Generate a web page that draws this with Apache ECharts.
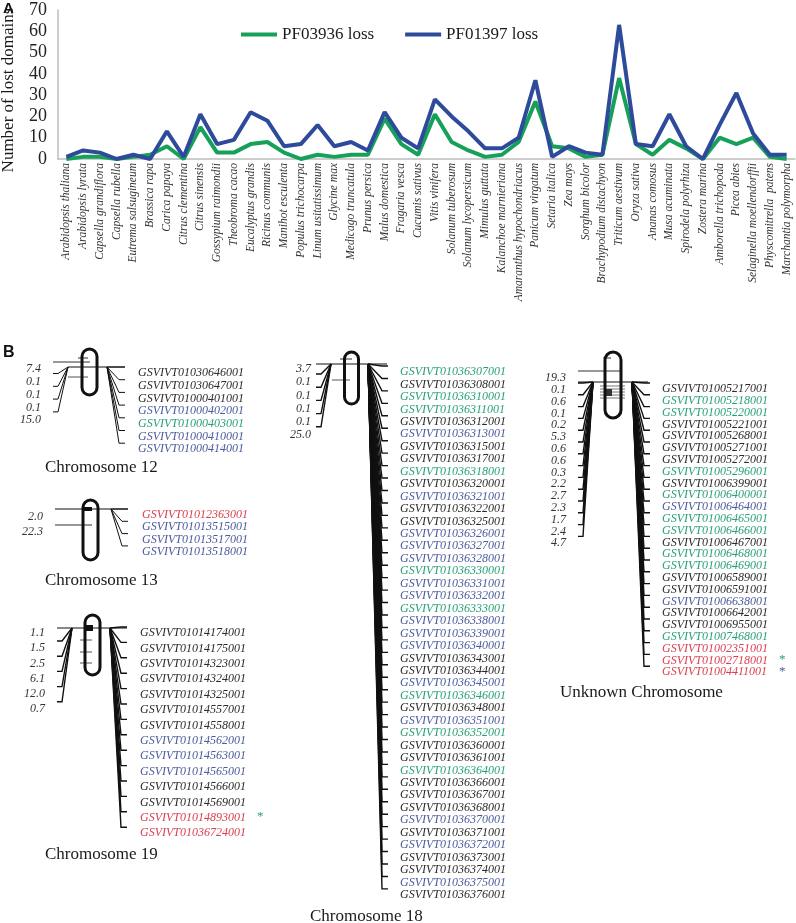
<!DOCTYPE html>
<html><head><meta charset="utf-8">
<script src="https://cdn.jsdelivr.net/npm/echarts@6/dist/echarts.min.js"></script>
<style>html,body{margin:0;padding:0;background:#fff}#c{width:796px;height:923px}</style>
</head><body><div id="c"></div>
<script>
const species = ['Arabidopsis thaliana','Arabidopsis lyrata','Capsella grandiflora','Capsella rubella','Eutrema salsugineum','Brassica rapa','Carica papaya','Citrus clementina','Citrus sinensis','Gossypium raimondii','Theobroma cacao','Eucalyptus grandis','Ricinus communis','Manihot esculenta','Populus trichocarpa','Linum usitatissimum','Glycine max','Medicago truncatula','Prunus persica','Malus domestica','Fragaria vesca','Cucumis sativus','Vitis vinifera','Solanum tuberosum','Solanum lycopersicum','Mimulus guttata','Kalanchoe marnieriana','Amaranthus hypochondriacus','Panicum virgatum','Setaria italica','Zea mays','Sorghum bicolor','Brachypodium distachyon','Triticum aestivum','Oryza sativa','Ananas comosus','Musa acuminata','Spirodela polyrhiza','Zostera marina','Amborella trichopoda','Picea abies','Selaginella moellendorffii','Physcomitrella  patens','Marchantia polymorpha'];
const pf03936Loss = [0,1,1,0,1,2,6,0,15,3,3,7,8,3,0,2,1,2,2,19,7,2,21,8,4,1,2,8,27,6,5,1,2,38,7,2,9,5,0,10,7,10,1,0];
const pf01397Loss = [1,4,3,0,2,0,13,1,21,7,9,22,18,6,7,16,6,8,4,22,10,5,28,20,13,5,5,10,37,1,6,3,2,63,7,6,21,6,0,16,31,12,2,2];
const yTicks = [0,10,20,30,40,50,60,70];

// gene lists: [id, colour code, asterisk colour]
const chr12Genes = [['GSVIVT01030646001','k'],['GSVIVT01030647001','k'],['GSVIVT01000401001','k'],['GSVIVT01000402001','b'],['GSVIVT01000403001','g'],['GSVIVT01000410001','b'],['GSVIVT01000414001','b']];
const chr12Dist = ['7.4','0.1','0.1','0.1','15.0'];
const chr13Genes = [['GSVIVT01012363001','r'],['GSVIVT01013515001','b'],['GSVIVT01013517001','b'],['GSVIVT01013518001','b']];
const chr13Dist = ['2.0','22.3'];
const chr19Genes = [['GSVIVT01014174001','k'],['GSVIVT01014175001','k'],['GSVIVT01014323001','k'],['GSVIVT01014324001','k'],['GSVIVT01014325001','k'],['GSVIVT01014557001','k'],['GSVIVT01014558001','k'],['GSVIVT01014562001','b'],['GSVIVT01014563001','b'],['GSVIVT01014565001','b'],['GSVIVT01014566001','k'],['GSVIVT01014569001','k'],['GSVIVT01014893001','r','g'],['GSVIVT01036724001','r']];
const chr19Dist = ['1.1','1.5','2.5','6.1','12.0','0.7'];
const chr18Genes = [['GSVIVT01036307001','g'],['GSVIVT01036308001','k'],['GSVIVT01036310001','g'],['GSVIVT01036311001','g'],['GSVIVT01036312001','k'],['GSVIVT01036313001','b'],['GSVIVT01036315001','k'],['GSVIVT01036317001','k'],['GSVIVT01036318001','g'],['GSVIVT01036320001','k'],['GSVIVT01036321001','b'],['GSVIVT01036322001','k'],['GSVIVT01036325001','k'],['GSVIVT01036326001','b'],['GSVIVT01036327001','b'],['GSVIVT01036328001','b'],['GSVIVT01036330001','g'],['GSVIVT01036331001','b'],['GSVIVT01036332001','b'],['GSVIVT01036333001','g'],['GSVIVT01036338001','b'],['GSVIVT01036339001','b'],['GSVIVT01036340001','b'],['GSVIVT01036343001','k'],['GSVIVT01036344001','k'],['GSVIVT01036345001','b'],['GSVIVT01036346001','g'],['GSVIVT01036348001','k'],['GSVIVT01036351001','b'],['GSVIVT01036352001','g'],['GSVIVT01036360001','k'],['GSVIVT01036361001','k'],['GSVIVT01036364001','g'],['GSVIVT01036366001','k'],['GSVIVT01036367001','k'],['GSVIVT01036368001','k'],['GSVIVT01036370001','b'],['GSVIVT01036371001','k'],['GSVIVT01036372001','b'],['GSVIVT01036373001','k'],['GSVIVT01036374001','k'],['GSVIVT01036375001','b'],['GSVIVT01036376001','k']];
const chr18Dist = ['3.7','0.1','0.1','0.1','0.1','25.0'];
const chrUnGenes = [['GSVIVT01005217001','k'],['GSVIVT01005218001','g'],['GSVIVT01005220001','g'],['GSVIVT01005221001','k'],['GSVIVT01005268001','k'],['GSVIVT01005271001','k'],['GSVIVT01005272001','k'],['GSVIVT01005296001','g'],['GSVIVT01006399001','k'],['GSVIVT01006400001','g'],['GSVIVT01006464001','b'],['GSVIVT01006465001','g'],['GSVIVT01006466001','g'],['GSVIVT01006467001','k'],['GSVIVT01006468001','g'],['GSVIVT01006469001','g'],['GSVIVT01006589001','k'],['GSVIVT01006591001','k'],['GSVIVT01006638001','b'],['GSVIVT01006642001','k'],['GSVIVT01006955001','k'],['GSVIVT01007468001','g'],['GSVIVT01002351001','r'],['GSVIVT01002718001','r','g'],['GSVIVT01004411001','r','b']];
const chrUnDist = ['19.3','0.1','0.6','0.1','0.2','5.3','0.6','0.6','0.3','2.2','2.7','2.3','1.7','2.4','4.7'];

const geneColors = {k:'#2a2a2a', b:'#4a5a9c', g:'#29a078', r:'#d8404f'};
const SERIF = '"Liberation Serif","Times New Roman",serif';

const G = [];
function line(x1,y1,x2,y2,w,col){G.push({type:'line',silent:true,shape:{x1,y1,x2,y2},style:{stroke:col||'#111',lineWidth:w||1}});}
function txt(x,y,t,font,fill,align,rot){G.push({type:'text',silent:true,x,y,rotation:rot||0,style:{text:t,font,fill,align:align||'left',verticalAlign:'middle'}});}

function chrom(c){
  const fw = c.fanW||1;
  c.genes.forEach((g,i)=>{
    const y=c.gy0+i*c.gstep, ty=y-6;
    G.push({type:'polyline',silent:true,shape:{points:[[c.fanX,c.mainY],[c.tickX,ty],[c.tickX+6,ty]]},style:{stroke:'#111',lineWidth:fw,fill:null}});
    txt(c.gx,y,g[0],'italic 12px '+SERIF,geneColors[g[1]]);
    if(g[2]) txt(c.gx+117,y-1,'*','13px '+SERIF,geneColors[g[2]]);
  });
  c.dist.forEach((d,i)=>{
    const y=c.dy0+i*c.dstep;
    txt(c.dx,y,d,'italic 12px '+SERIF,'#333','right');
    if(c.leftFan && i<c.dist.length-1){
      const ty=y+c.toff;
      G.push({type:'polyline',silent:true,shape:{points:[[c.lx,ty],[c.lx+5,ty],[c.convX,c.mainY]]},style:{stroke:'#111',lineWidth:fw,fill:null}});
    }
  });
  (c.extra||[]).forEach(e=>line(e[0],e[1],e[2],e[3],e[4]||1,e[5]||'#333'));
  (c.blocks||[]).forEach(b=>G.push({type:'rect',silent:true,shape:{x:b[0],y:b[1],width:b[2],height:b[3]},style:{fill:b[4]||'#111'}}));
  line(c.main[0],c.mainY,c.main[1],c.mainY,1.2,'#111');
  G.push({type:'rect',silent:true,shape:{x:c.oval[0],y:c.oval[1],width:c.oval[2],height:c.oval[3],r:c.oval[2]/2},style:{fill:'none',stroke:'#111',lineWidth:3}});
  txt(c.title[1],c.title[2],c.title[0],'17px '+SERIF,'#1a1a1a');
}

chrom({genes:chr12Genes,dist:chr12Dist,mainY:367,main:[68,125],oval:[82,349,15,46],
  gx:138,gy0:373,gstep:12.7,fanX:107,tickX:119,
  dx:41,dy0:369,dstep:12.8,leftFan:true,lx:53,convX:68,toff:4.5,
  extra:[[53,362,90,362],[78,358,88,358],[68,377,88,377,1,'#555']],
  title:['Chromosome 12',45,468]});
chrom({genes:chr13Genes,dist:chr13Dist,mainY:509,main:[55,128],oval:[83,500,15,60],
  gx:142,gy0:515,gstep:12.3,fanX:111,tickX:122,
  dx:43,dy0:517,dstep:15,leftFan:false,
  extra:[[55,525,92,525,1.2,'#333']],blocks:[[83,507,9,4]],
  title:['Chromosome 13',45,581]});
chrom({genes:chr19Genes,dist:chr19Dist,mainY:628,main:[57,127],oval:[85,615,15,60],fanW:1.4,
  gx:140,gy0:633,gstep:15.4,fanX:110,tickX:121,
  dx:45,dy0:633,dstep:15.2,leftFan:true,lx:57,convX:72,toff:8,
  extra:[[80,640,92,640,1,'#555'],[80,652,92,652,1,'#555'],[80,663,92,663,1,'#555']],blocks:[[84,625,9,6]],
  title:['Chromosome 19',45,855]});
chrom({genes:chr18Genes,dist:chr18Dist,mainY:364,main:[316,387],oval:[344.5,352,14,52],fanW:1.4,
  gx:400,gy0:372,gstep:12.45,fanX:368,tickX:382,
  dx:311,dy0:369,dstep:13.2,leftFan:true,lx:316,convX:331,toff:5,
  extra:[[340,359,352,359],[332,380,350,380,1,'#555']],
  title:['Chromosome 18',310,917]});
chrom({genes:chrUnGenes,dist:chrUnDist,mainY:382,main:[578,648],oval:[605,352,16,66],fanW:1.4,
  gx:662,gy0:389,gstep:11.8,fanX:632,tickX:644,
  dx:566,dy0:378,dstep:11.8,leftFan:true,lx:578,convX:593,toff:5,
  extra:[[578,371,620,371],[603,358,611,358],[600,386,625,386,1,'#777'],[600,389,625,389,1,'#777'],[600,392,625,392,1,'#777'],[600,395,625,395,1,'#777'],[600,398,625,398,1,'#777']],
  blocks:[[604,389,8,7,'#333']],
  title:['Unknown Chromosome',560,693]});

txt(3,9,'A','bold 15px "Liberation Sans",Arial,sans-serif','#111');
txt(3,353,'B','bold 16px "Liberation Sans",Arial,sans-serif','#111');
txt(9,90,'Number of lost domains','17px '+SERIF,'#1a1a1a','center',Math.PI/2);

const chart = echarts.init(document.getElementById('c'));
chart.setOption({
  animation:false,
  backgroundColor:'#fff',
  grid:{left:58,right:1,top:10,height:149,containLabel:false},
  legend:{left:236,top:21,icon:'rect',itemWidth:36,itemHeight:4,itemGap:31,
    textStyle:{fontFamily:SERIF,fontSize:17,color:'#1a1a1a'},
    data:['PF03936 loss','PF01397 loss']},
  xAxis:{type:'category',data:species,boundaryGap:true,
    axisLine:{lineStyle:{color:'#bdbdbd',width:1.5}},axisTick:{show:false},
    axisLabel:{rotate:90,interval:0,margin:4,fontFamily:SERIF,fontStyle:'italic',fontSize:11.5,color:'#333'}},
  yAxis:{type:'value',min:yTicks[0],max:yTicks[yTicks.length-1],interval:10,
    axisLine:{show:true,lineStyle:{color:'#bdbdbd',width:1.5}},axisTick:{show:false},splitLine:{show:false},
    axisLabel:{fontFamily:SERIF,fontSize:18,color:'#222',margin:11}},
  series:[
    {name:'PF03936 loss',type:'line',data:pf03936Loss,showSymbol:false,symbol:'none',color:'#16a05a',lineStyle:{width:4,color:'#16a05a'}},
    {name:'PF01397 loss',type:'line',data:pf01397Loss,showSymbol:false,symbol:'none',color:'#2e4b9b',lineStyle:{width:4,color:'#2e4b9b'}}
  ],
  graphic:G
});
</script></body></html>
